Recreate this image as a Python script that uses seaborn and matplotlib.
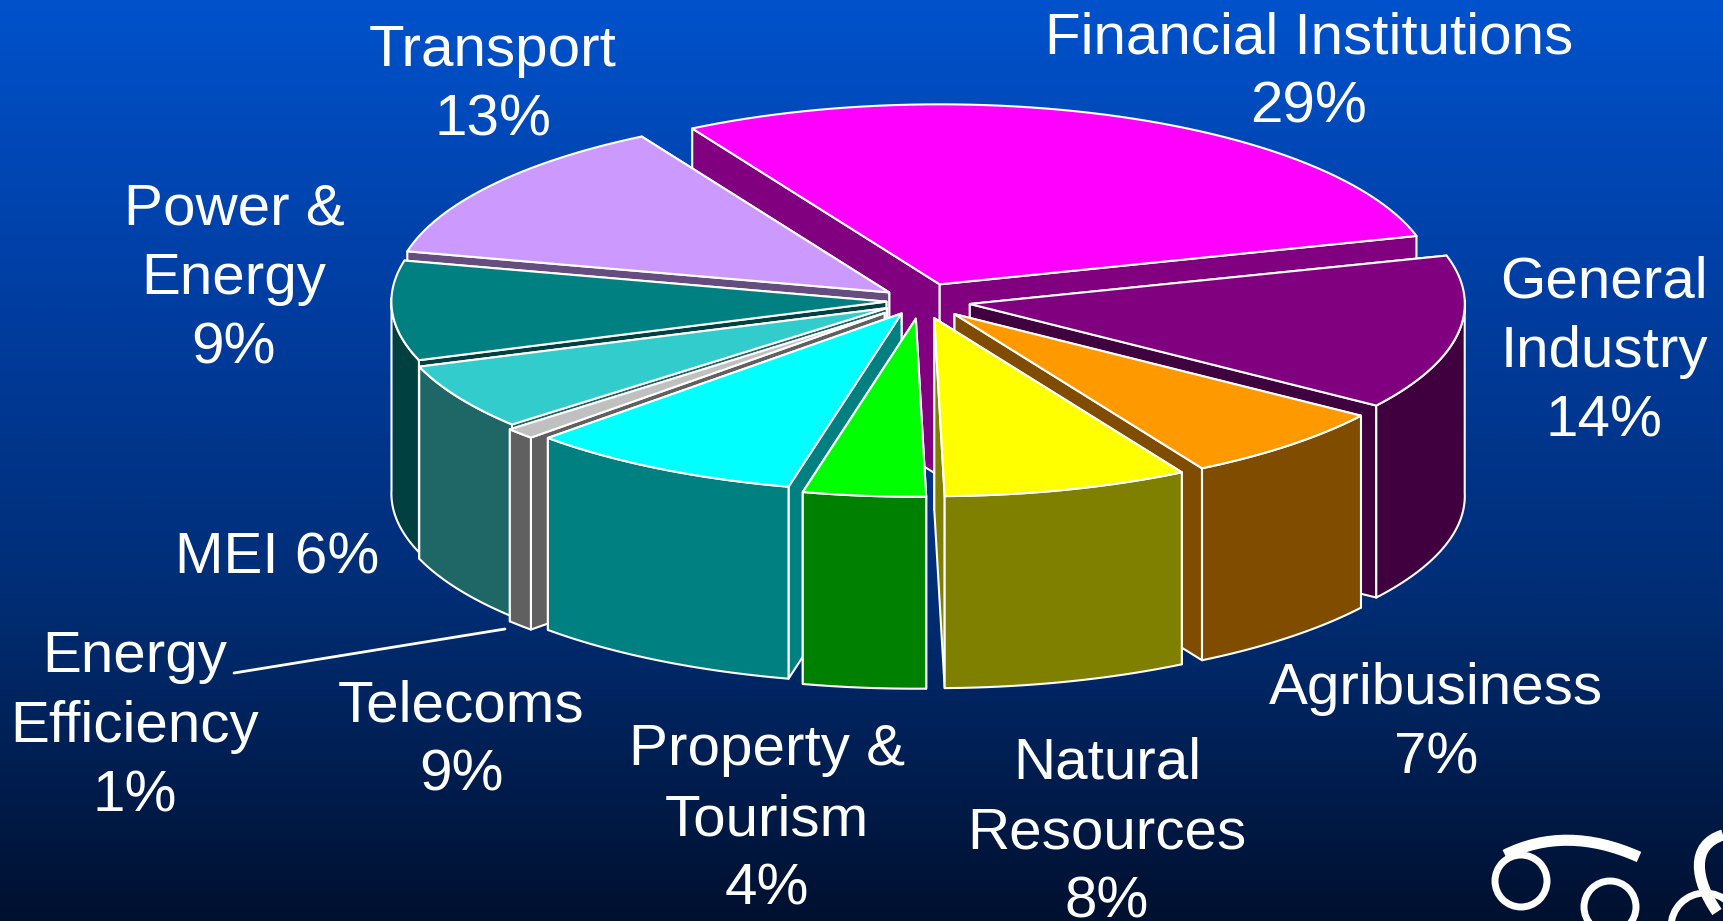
import numpy as np
import matplotlib
matplotlib.use("Agg")
import matplotlib.pyplot as plt
from matplotlib.patches import Polygon, Circle, PathPatch
from matplotlib.path import Path
import seaborn as sns

sectors = ["Financial Institutions", "General Industry", "Agribusiness", "Natural Resources",
           "Property & Tourism", "Telecoms", "Energy Efficiency", "MEI", "Power & Energy", "Transport"]
shares = [29, 14, 7, 8, 4, 9, 1, 6, 9, 13]

top_colors = ["#FF00FF", "#800080", "#FF9900", "#FFFF00", "#00FF00",
              "#00FFFF", "#C0C0C0", "#33CCCC", "#008080", "#CC99FF"]
side_colors = ["#800080", "#400040", "#804D00", "#808000", "#008000",
               "#008080", "#606060", "#1F6666", "#004040", "#664D80"]

label_text = ["Financial Institutions\n29%", "General\nIndustry\n14%", "Agribusiness\n7%",
              "Natural\nResources\n8%", "Property &\nTourism\n4%", "Telecoms\n9%",
              "Energy\nEfficiency\n1%", "MEI 6%", "Power &\nEnergy\n9%", "Transport\n13%"]
label_x = [1309, 1604, 1436, 1107, 767, 461, 135, 277, 234, 493]
label_y = [73, 352, 724, 833, 820, 741, 727, 558, 279, 86]

# pie geometry in pixels
W, H = 1723, 921
cx, cy = 921, 301
rx, ry_back, ry_front = 495, 180, 178
depth = 192
start_angle = -30
explode = [0.1, 0.1, 0.1, 0.1, 0.1, 0.08, 0.1, 0.08, 0.07, 0.08]

sns.set_theme(style="white")
plt.rcParams["font.family"] = ["Liberation Sans", "DejaVu Sans"]

fig = plt.figure(figsize=(W / 100, H / 100), dpi=100)
ax = fig.add_axes([0, 0, 1, 1])

bg = sns.blend_palette(["#0052CC", "#003DA0", "#002C72", "#00102F"], as_cmap=True)
ax.imshow(np.linspace(0, 1, 512).reshape(-1, 1), cmap=bg, aspect="auto", extent=(0, W, H, 0), zorder=0)
ax.set_xlim(0, W)
ax.set_ylim(H, 0)
ax.axis("off")


def project(angle, scale=1.0):
    t = np.radians(angle)
    c = np.cos(t)
    ry = np.where(c > 0, ry_back, ry_front)
    return scale * rx * np.sin(t), -scale * ry * c


def face(xs, ys, color, z):
    ax.add_patch(Polygon(np.column_stack([xs, ys]), closed=True, facecolor=color,
                         edgecolor="white", linewidth=1.5, joinstyle="round", zorder=z))


edges = np.concatenate([[0], np.cumsum(shares)]) * 3.6 + start_angle
mids = (edges[:-1] + edges[1:]) / 2
order = np.argsort(-np.cos(np.radians(mids)))

ax.plot([234, 505], [673, 629], color="white", lw=2, zorder=1)

z = 2
for i in order:
    a0, a1 = edges[i], edges[i + 1]
    ox, oy = project(mids[i], explode[i])
    ax0, ay0 = cx + ox, cy + oy
    arc = np.linspace(a0, a1, 60)
    px, py = project(arc)
    px, py = ax0 + px, ay0 + py

    # radial walls, the hidden one first
    walls = [(a0, a0 - 90, 0), (a1, a1 + 90, -1)]
    walls.sort(key=lambda w: -np.cos(np.radians(w[1])))
    for _, _, k in walls:
        face([ax0, px[k], px[k], ax0], [ay0, py[k], py[k] + depth, ay0 + depth], side_colors[i], z)
        z += 1

    # outer wall on the part of the rim that faces the viewer
    front = np.cos(np.radians(arc)) < 0.02
    if front.any():
        fx, fy = px[front], py[front]
        face(np.r_[fx, fx[::-1]], np.r_[fy, fy[::-1] + depth], side_colors[i], z)
        z += 1

    face(np.r_[ax0, px], np.r_[ay0, py], top_colors[i], z)
    z += 1

for t, x, y in zip(label_text, label_x, label_y):
    ax.text(x, y, t, color="white", fontsize=42, ha="center", va="center",
            linespacing=1.38, multialignment="center", zorder=500)

# logo fragment in the corner
logo = dict(facecolor="none", edgecolor="white", linewidth=5, zorder=500)
ax.add_patch(Circle((1521, 881), 26, **logo))
ax.add_patch(Circle((1610, 907), 26, **logo))
ax.add_patch(Circle((1705, 927), 34, **logo))
curve = [Path.MOVETO, Path.CURVE4, Path.CURVE4, Path.CURVE4]
ax.add_patch(PathPatch(Path([(1505, 855), (1545, 835), (1590, 835), (1639, 857)], curve),
                       facecolor="none", edgecolor="white", linewidth=8, capstyle="butt", zorder=500))
ax.add_patch(PathPatch(Path([(1723, 835), (1690, 845), (1695, 880), (1717, 912)], curve),
                       facecolor="none", edgecolor="white", linewidth=8, capstyle="butt", zorder=500))

fig.savefig("out.png", dpi=100)
